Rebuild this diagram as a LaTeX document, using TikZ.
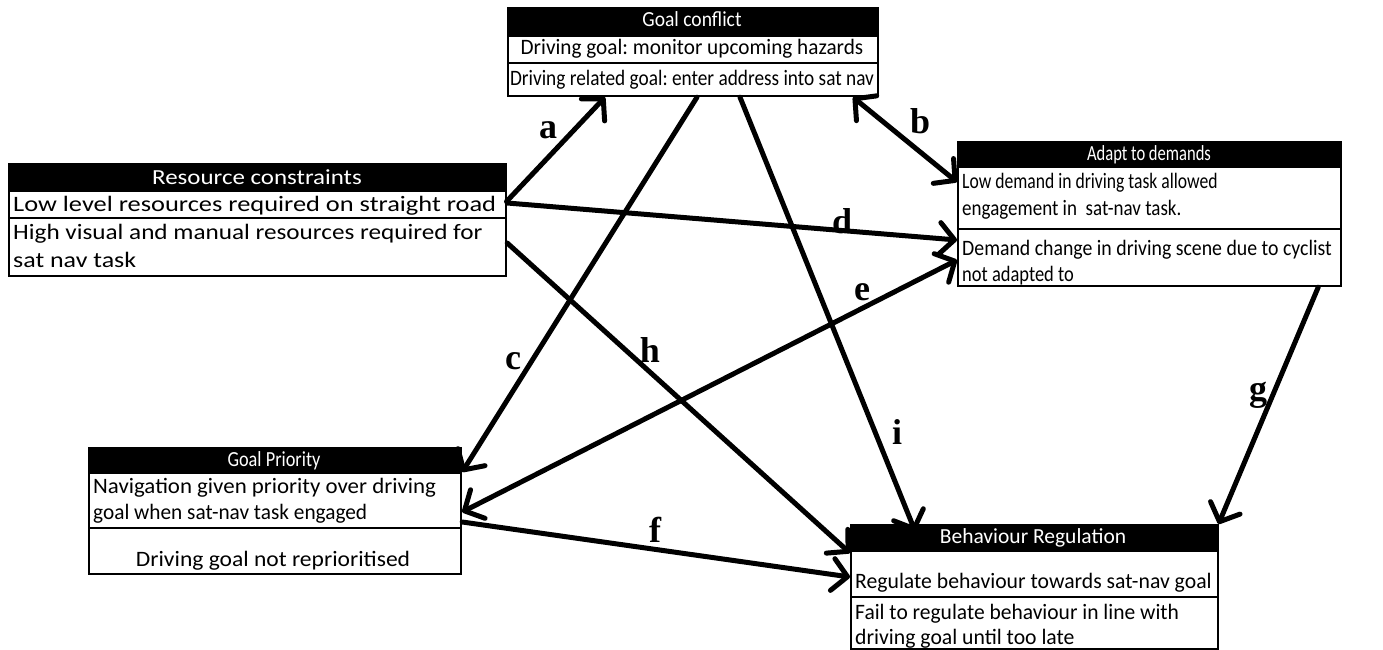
\documentclass[tikz,border=0pt]{standalone}
\usepackage{fontspec}
\usepackage{graphicx}
\setmainfont{Carlito}
\newfontfamily\lblfont{Liberation Serif}
\usetikzlibrary{arrows.meta}
\frenchspacing
\newcommand{\hsq}[2]{\scalebox{#1}[1]{#2}}
\begin{document}
\begin{tikzpicture}[x=1pt,y=-1pt,
  hdr/.style={draw=black,fill=black,line width=1.5pt,inner sep=0pt,anchor=north west},
  row/.style={draw=black,fill=white,line width=2.2pt,inner sep=0pt,anchor=north west},
  htxt/.style={text=white,inner sep=0pt,anchor=base,font=\fontsize{21.5}{21.5}\selectfont},
  btxt/.style={inner sep=0pt,anchor=base west,font=\fontsize{22}{22}\selectfont},
  ctxt/.style={inner sep=0pt,anchor=base,font=\fontsize{22}{22}\selectfont},
  lbl/.style={font=\lblfont\bfseries\fontsize{36}{40}\selectfont,inner sep=0pt},
  tipb/.tip={Straight Barb[length=15pt,width=32pt,round]},
  conn/.style={line width=5pt,line cap=round,-tipb},
  conn2/.style={line width=5pt,line cap=round,tipb-tipb}]
\useasboundingbox (0,0) rectangle (1383,650);
\fill[white] (0,0) rectangle (1383,650);

% Goal conflict
\node[hdr,minimum width=370pt,minimum height=28pt] (gch) at (507,7) {};
\node[row,minimum width=370pt,minimum height=27pt] (gc1) at (507,35) {};
\node[row,minimum width=370pt,minimum height=33pt] (gc2) at (507,62) {};
\node[htxt] (gct) at (692,27) {\hsq{0.91}{Goal conflict}};
\node[ctxt] (gct1) at (692,55) {\hsq{0.964}{Driving goal: monitor upcoming hazards}};
\node[ctxt] (gct2) at (692,86) {\hsq{0.877}{Driving related goal: enter address into sat nav}};

% Resource constraints
\node[hdr,minimum width=497pt,minimum height=27pt] (rch) at (8,163) {};
\node[row,minimum width=497pt,minimum height=27pt] (rc1) at (8,190) {};
\node[row,minimum width=497pt,minimum height=58pt] (rc2) at (8,217) {};
\node[htxt] (rct) at (257,184) {\hsq{1.16}{Resource constraints}};
\node[btxt] (rct1) at (13,211) {\hsq{1.2}{Low level resources required on straight road}};
\node[btxt] (rct2) at (13,239) {\hsq{1.145}{High visual and manual resources required for}};
\node[btxt] (rct3) at (13,267) {\hsq{1.18}{sat nav task}};

% Adapt to demands
\node[hdr,minimum width=383pt,minimum height=25pt] (adh) at (957,141) {};
\node[row,minimum width=383pt,minimum height=62pt] (ad1) at (957,166) {};
\node[row,minimum width=383pt,minimum height=57pt] (ad2) at (957,228) {};
\node[htxt] (adt) at (1149,160) {\hsq{0.77}{Adapt to demands}};
\node[btxt] (adt1) at (962,188) {\hsq{0.8}{Low demand in driving task allowed}};
\node[btxt] (adt2) at (962,215) {\hsq{0.864}{engagement in\ \ sat-nav task.}};
\node[btxt] (adt3) at (962,255) {\hsq{0.9}{Demand change in driving scene due to cyclist}};
\node[btxt] (adt4) at (962,281) {\hsq{0.84}{not adapted to}};

% Goal Priority
\node[hdr,minimum width=372pt,minimum height=25pt] (gph) at (88,447) {};
\node[row,minimum width=372pt,minimum height=55pt] (gp1) at (88,472) {};
\node[row,minimum width=372pt,minimum height=46pt] (gp2) at (88,527) {};
\node[htxt] (gpt) at (274,466) {\hsq{0.85}{Goal Priority}};
\node[btxt] (gpt1) at (93,493) {\hsq{1.04}{Navigation given priority over driving}};
\node[btxt] (gpt2) at (93,519) {\hsq{0.968}{goal when sat-nav task engaged}};
\node[ctxt] (gpt3) at (273,566) {\hsq{1.07}{Driving goal not reprioritised}};

% Behaviour Regulation
\node[hdr,minimum width=367pt,minimum height=26pt] (brh) at (850,524) {};
\node[row,minimum width=367pt,minimum height=46pt] (br1) at (850,550) {};
\node[row,minimum width=367pt,minimum height=52pt] (br2) at (850,596) {};
\node[htxt] (brt) at (1033,543) {\hsq{1.0}{Behaviour Regulation}};
\node[btxt] (brt1) at (855,588) {\hsq{0.986}{Regulate behaviour towards sat-nav goal}};
\node[btxt] (brt2) at (855,619) {\hsq{0.977}{Fail to regulate behaviour in line with}};
\node[btxt] (brt3) at (855,644) {\hsq{0.986}{driving goal until too late}};

% connectors
\draw[conn] ([yshift=-10pt]rch.south east) -- ([xshift=98pt]gc2.south west);
\draw[conn2] ([xshift=346pt]gc2.south west) -- ([yshift=-16pt]ad1.north west);
\draw[conn] ([xshift=190pt]gc2.south west) -- (gp1.north east);
\draw[conn] ([yshift=-13pt]rc1.north east) -- ([yshift=-12pt]ad2.north west);
\draw[conn2] ([yshift=-32pt]ad2.north west) -- ([yshift=-40pt]gp1.north east);
\draw[conn] ([yshift=-50pt]gp1.north east) -- ([yshift=-27pt]br1.north west);
\draw[conn] ([xshift=-24pt]ad2.south east) -- (brh.north east);
\draw[conn] ([yshift=-26pt]rc2.north east) -- ([yshift=-3pt]br1.north west);
\draw[conn] ([xshift=233pt]gc2.south west) -- ([xshift=65pt,yshift=-7pt]brh.north west);

% labels
\node[lbl] (la) at (548,130) {a};
\node[lbl] (lb) at (920,121) {b};
\node[lbl] (lc) at (513,361) {c};
\node[lbl] (ld) at (842,221) {d};
\node[lbl] (le) at (862,292) {e};
\node[lbl] (lf) at (655,530) {f};
\node[lbl] (lg) at (1258,395) {g};
\node[lbl] (lh) at (650,350) {h};
\node[lbl] (li) at (897,432) {i};
\end{tikzpicture}
\end{document}
